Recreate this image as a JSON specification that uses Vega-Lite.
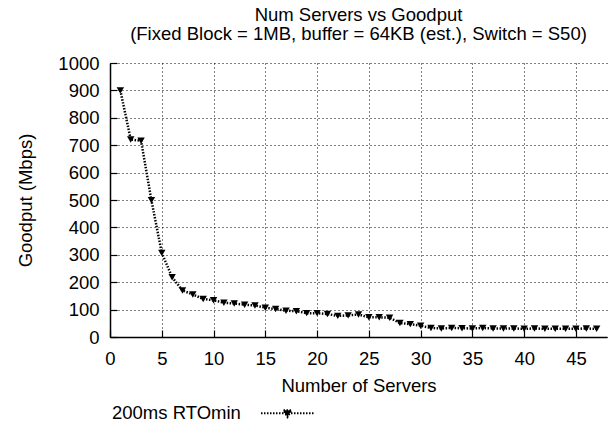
{
  "$schema": "https://vega.github.io/schema/vega-lite/v6.json",
  "autosize": {"type": "none"},
  "width": 497,
  "height": 274,
  "padding": {"left": 110, "top": 63, "right": 6, "bottom": 87},
  "background": "white",
  "config": {
    "font": "Liberation Sans",
    "view": {"stroke": null},
    "axis": {"labelFont": "Liberation Sans", "titleFont": "Liberation Sans", "labelFontSize": 18.5, "titleFontSize": 18.5, "titleFontWeight": "normal", "labelColor": "black", "titleColor": "black"}
  },
  "title": {
    "text": ["Num Servers vs Goodput", "(Fixed Block = 1MB, buffer = 64KB (est.), Switch = S50)"],
    "fontSize": 18.5,
    "fontWeight": "normal",
    "font": "Liberation Sans",
    "color": "black",
    "anchor": "middle",
    "lineHeight": 19,
    "offset": 11
  },
  "data": {
    "values": [
      {"servers": 1, "goodput": 900, "series": "200ms RTOmin"},
      {"servers": 2, "goodput": 721, "series": "200ms RTOmin"},
      {"servers": 3, "goodput": 716, "series": "200ms RTOmin"},
      {"servers": 4, "goodput": 499, "series": "200ms RTOmin"},
      {"servers": 5, "goodput": 307, "series": "200ms RTOmin"},
      {"servers": 6, "goodput": 218, "series": "200ms RTOmin"},
      {"servers": 7, "goodput": 170, "series": "200ms RTOmin"},
      {"servers": 8, "goodput": 155, "series": "200ms RTOmin"},
      {"servers": 9, "goodput": 139, "series": "200ms RTOmin"},
      {"servers": 10, "goodput": 134, "series": "200ms RTOmin"},
      {"servers": 11, "goodput": 125, "series": "200ms RTOmin"},
      {"servers": 12, "goodput": 122, "series": "200ms RTOmin"},
      {"servers": 13, "goodput": 118, "series": "200ms RTOmin"},
      {"servers": 14, "goodput": 115, "series": "200ms RTOmin"},
      {"servers": 15, "goodput": 107, "series": "200ms RTOmin"},
      {"servers": 16, "goodput": 102, "series": "200ms RTOmin"},
      {"servers": 17, "goodput": 96, "series": "200ms RTOmin"},
      {"servers": 18, "goodput": 94, "series": "200ms RTOmin"},
      {"servers": 19, "goodput": 87, "series": "200ms RTOmin"},
      {"servers": 20, "goodput": 87, "series": "200ms RTOmin"},
      {"servers": 21, "goodput": 84, "series": "200ms RTOmin"},
      {"servers": 22, "goodput": 77, "series": "200ms RTOmin"},
      {"servers": 23, "goodput": 79, "series": "200ms RTOmin"},
      {"servers": 24, "goodput": 82, "series": "200ms RTOmin"},
      {"servers": 25, "goodput": 72, "series": "200ms RTOmin"},
      {"servers": 26, "goodput": 72, "series": "200ms RTOmin"},
      {"servers": 27, "goodput": 70, "series": "200ms RTOmin"},
      {"servers": 28, "goodput": 51, "series": "200ms RTOmin"},
      {"servers": 29, "goodput": 47, "series": "200ms RTOmin"},
      {"servers": 30, "goodput": 41, "series": "200ms RTOmin"},
      {"servers": 31, "goodput": 33, "series": "200ms RTOmin"},
      {"servers": 32, "goodput": 31, "series": "200ms RTOmin"},
      {"servers": 33, "goodput": 33, "series": "200ms RTOmin"},
      {"servers": 34, "goodput": 32, "series": "200ms RTOmin"},
      {"servers": 35, "goodput": 31, "series": "200ms RTOmin"},
      {"servers": 36, "goodput": 33, "series": "200ms RTOmin"},
      {"servers": 37, "goodput": 31, "series": "200ms RTOmin"},
      {"servers": 38, "goodput": 31, "series": "200ms RTOmin"},
      {"servers": 39, "goodput": 31, "series": "200ms RTOmin"},
      {"servers": 40, "goodput": 30, "series": "200ms RTOmin"},
      {"servers": 41, "goodput": 31, "series": "200ms RTOmin"},
      {"servers": 42, "goodput": 30, "series": "200ms RTOmin"},
      {"servers": 43, "goodput": 30, "series": "200ms RTOmin"},
      {"servers": 44, "goodput": 30, "series": "200ms RTOmin"},
      {"servers": 45, "goodput": 30, "series": "200ms RTOmin"},
      {"servers": 46, "goodput": 31, "series": "200ms RTOmin"},
      {"servers": 47, "goodput": 30, "series": "200ms RTOmin"}
    ]
  },
  "mark": {
    "type": "line",
    "strokeWidth": 2.5,
    "strokeDash": [1.5, 1.5],
    "point": {"shape": "triangle-down", "size": 55, "filled": true, "color": "black", "opacity": 1}
  },
  "encoding": {
    "x": {
      "field": "servers",
      "type": "quantitative",
      "scale": {"domain": [0, 48], "nice": false, "zero": false},
      "axis": {
        "title": "Number of Servers",
        "values": [0, 5, 10, 15, 20, 25, 30, 35, 40, 45],
        "format": "d",
        "grid": true,
        "gridColor": "black",
        "gridDash": [1, 3],
        "gridWidth": 1,
        "gridOpacity": 1,
        "domainColor": "black",
        "domainWidth": 1.5,
        "tickColor": "black",
        "tickSize": -7,
        "tickWidth": 1.2,
        "labelPadding": 19,
        "titlePadding": 9,
        "labelFlush": false
      }
    },
    "y": {
      "field": "goodput",
      "type": "quantitative",
      "scale": {"domain": [0, 1000], "nice": false},
      "axis": {
        "title": "Goodput (Mbps)",
        "values": [0, 100, 200, 300, 400, 500, 600, 700, 800, 900, 1000],
        "format": "d",
        "grid": true,
        "gridColor": "black",
        "gridDash": [1, 3],
        "gridWidth": 1,
        "gridOpacity": 1,
        "domainColor": "black",
        "domainWidth": 1.5,
        "tickColor": "black",
        "tickSize": -7,
        "tickWidth": 1.2,
        "labelPadding": 18,
        "titlePadding": 22,
        "labelFlush": false
      }
    },
    "color": {
      "field": "series",
      "type": "nominal",
      "scale": {"range": ["black"]},
      "legend": {
        "orient": "none",
        "legendX": 2,
        "legendY": 334,
        "title": "200ms RTOmin",
        "titleOrient": "left",
        "titleFontSize": 18.5,
        "titleFontWeight": "normal",
        "titleFont": "Liberation Sans",
        "titleColor": "black",
        "titleBaseline": "middle",
        "titlePadding": 19,
        "labelExpr": "''",
        "symbolType": "M-1,-0.42H1M-0.15,-0.54L0.15,-0.54L0,-0.28Z",
        "symbolSize": 2809,
        "symbolStrokeWidth": 2,
        "symbolDash": [1.5, 1.5],
        "symbolStrokeColor": "black",
        "symbolFillColor": "black",
        "symbolOpacity": 1,
        "offset": 0
      }
    }
  }
}
